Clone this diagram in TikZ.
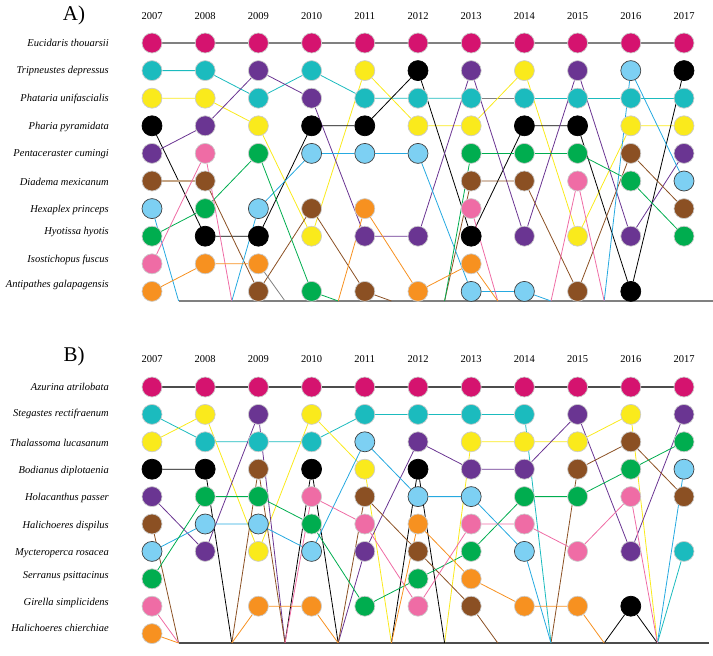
\documentclass[tikz,border=0pt]{standalone}
\usepackage{fontspec}
\setmainfont{Liberation Serif}
\usetikzlibrary{backgrounds}

\definecolor{cmag}{RGB}{213,19,111}
\definecolor{cteal}{RGB}{27,187,190}
\definecolor{cyel}{RGB}{250,234,28}
\definecolor{cpur}{RGB}{106,53,146}
\definecolor{cbrn}{RGB}{139,80,35}
\definecolor{clbl}{RGB}{125,208,243}
\definecolor{clbline}{RGB}{38,169,224}
\definecolor{cgrn}{RGB}{0,173,79}
\definecolor{cpnk}{RGB}{239,108,165}
\definecolor{corg}{RGB}{247,145,32}
\definecolor{ctan}{RGB}{196,164,132}

\tikzset{
	dot/.style={circle,minimum size=20pt,inner sep=0pt,line width=0.7pt},
	spname/.style={anchor=east,inner sep=0pt,font=\fontsize{10.5}{12}\selectfont\itshape},
	yearlab/.style={inner sep=0pt,font=\fontsize{10.5}{12}\selectfont},
	panel/.style={inner sep=0pt,font=\fontsize{21}{24}\selectfont},
	link/.style={line width=0.8pt},
	floor/.style={line width=1.4pt,gray}
}

\begin{document}
\begin{tikzpicture}[x=1pt,y=-1pt]
	\useasboundingbox (0,0) rectangle (713,656);

	% panel A
	\node[panel] (A-title) at (74,15) {A)};
	\foreach \yr [evaluate=\yr as \full using int(2000+\yr)] in {7,...,17}
		\node[yearlab] (A-yr-\yr) at ({152+53.2*(\yr-7)},16) {\full};
	\foreach \sp/\ypos/\txt in {euc/43/Eucidaris thouarsii, tri/71/Tripneustes depressus,
		pha/99/Phataria unifascialis, par/127/Pharia pyramidata, pen/154/Pentaceraster cumingi,
		dia/182/Diadema mexicanum, hex/210/Hexaplex princeps, hyo/232/Hyotissa hyotis,
		iso/260/Isostichopus fuscus, ant/285/Antipathes galapagensis}
		\node[spname] (A-lab-\sp) at (109,\ypos) {\txt};
	\foreach \sp/\col/\ol/\pts in {
		euc/cmag/gray!40/{7/1,8/1,9/1,10/1,11/1,12/1,13/1,14/1,15/1,16/1,17/1},
		tri/cteal/gray!40/{7/2,8/2,9/3,10/2,11/3,12/3,13/3,14/3,15/3,16/3,17/3},
		pha/cyel/gray!40/{7/3,8/3,9/4,10/8,11/2,12/4,13/4,14/2,15/8,16/4,17/4},
		par/black/black/{7/4,8/8,9/8,10/4,11/4,12/2,13/8,14/4,15/4,16/10,17/2},
		pen/cpur/gray!40/{7/5,8/4,9/2,10/3,11/8,12/8,13/2,14/8,15/2,16/8,17/5},
		dia/cbrn/gray!40/{7/6,8/6,9/10,10/7,11/10,13/6,14/6,15/10,16/5,17/7},
		hex/clbl/black!75/{7/7,9/7,10/5,11/5,12/5,13/10,14/10,16/2,17/6},
		hyo/cgrn/gray!40/{7/8,8/7,9/5,10/10,13/5,14/5,15/5,16/6,17/8},
		iso/cpnk/gray!40/{7/9,8/5,13/7,15/6},
		ant/corg/gray!40/{7/10,8/9,9/9,11/7,12/10,13/9}}
		\foreach \yr/\rw in \pts
			\node[dot,fill=\col,draw=\ol] (A-\sp-\yr) at ({152+53.2*(\yr-7)},{43+27.6*(\rw-1)}) {};
	\foreach \yr in {7,...,16}
		\coordinate (A-mid-\yr) at ({178.6+53.2*(\yr-7)},301);
	\coordinate (A-end) at (713,301);

	\begin{pgfonlayer}{background}
		\draw[floor] (A-mid-7) -- (A-end);
		\draw[link,gray,line width=1.4pt] (A-euc-7) -- (A-euc-17);
		\draw[link,cteal] (A-tri-7) -- (A-tri-8) -- (A-tri-9) -- (A-tri-10) -- (A-tri-11) -- (A-tri-12)
			-- (A-tri-13);
		\draw[link,gray] (A-tri-13) -- (A-tri-14);
		\draw[link,cteal] (A-tri-14) -- (A-tri-15) -- (A-tri-16) -- (A-tri-17);
		\draw[link,cyel] (A-pha-7) -- (A-pha-8) -- (A-pha-9) -- (A-pha-10) -- (A-pha-11) -- (A-pha-12)
			-- (A-pha-13) -- (A-pha-14) -- (A-pha-15) -- (A-pha-16) -- (A-pha-17);
		\draw[link,black] (A-par-7) -- (A-par-8) -- (A-par-9) -- (A-par-10) -- (A-par-11) -- (A-par-12)
			-- (A-par-13) -- (A-par-14) -- (A-par-15) -- (A-par-16) -- (A-par-17);
		\draw[link,cpur] (A-pen-7) -- (A-pen-8) -- (A-pen-9) -- (A-pen-10) -- (A-pen-11) -- (A-pen-12)
			-- (A-pen-13) -- (A-pen-14) -- (A-pen-15) -- (A-pen-16) -- (A-pen-17);
		\draw[link,ctan,line width=1.6pt] (A-dia-7) -- (A-dia-8);
		\draw[link,cbrn] (A-dia-8) -- (A-dia-9) -- (A-dia-10) -- (A-dia-11) -- (A-mid-11)
			(A-mid-12) -- (A-dia-13) -- (A-dia-14) -- (A-dia-15) -- (A-dia-16) -- (A-dia-17);
		\draw[link,clbline] (A-hex-7) -- (A-mid-7) (A-mid-8) -- (A-hex-9) -- (A-hex-10) -- (A-hex-11)
			-- (A-hex-12) -- (A-hex-13) -- (A-hex-14) -- (A-mid-14) (A-mid-15) -- (A-hex-16) -- (A-hex-17);
		\draw[link,cgrn] (A-hyo-7) -- (A-hyo-8) -- (A-hyo-9) -- (A-hyo-10) -- (A-mid-10)
			(A-mid-12) -- (A-hyo-13) -- (A-hyo-14) -- (A-hyo-15) -- (A-hyo-16) -- (A-hyo-17);
		\draw[link,cpnk] (A-iso-7) -- (A-iso-8) -- (A-mid-8) (A-iso-13) -- (A-mid-13)
			(A-mid-14) -- (A-iso-15) -- (A-mid-15);
		\draw[link,corg] (A-ant-7) -- (A-ant-8) -- (A-ant-9);
		\draw[link,gray] (A-ant-9) -- (A-mid-9);
		\draw[link,corg] (A-mid-10) -- (A-ant-11) -- (A-ant-12) -- (A-ant-13) -- (A-mid-13);
	\end{pgfonlayer}

	% panel B
	\node[panel] (B-title) at (74,356) {B)};
	\foreach \yr [evaluate=\yr as \full using int(2000+\yr)] in {7,...,17}
		\node[yearlab] (B-yr-\yr) at ({152+53.2*(\yr-7)},359) {\full};
	\foreach \sp/\ypos/\txt in {azu/387/Azurina atrilobata, ste/414/Stegastes rectifraenum,
		tha/443/Thalassoma lucasanum, bod/471/Bodianus diplotaenia, hol/498/Holacanthus passer,
		hdi/526/Halichoeres dispilus, myc/553/Mycteroperca rosacea, ser/576/Serranus psittacinus,
		gir/603/Girella simplicidens, hch/628/Halichoeres chierchiae}
		\node[spname] (B-lab-\sp) at (109,\ypos) {\txt};
	\foreach \sp/\col/\ol/\pts in {
		azu/cmag/gray!40/{7/1,8/1,9/1,10/1,11/1,12/1,13/1,14/1,15/1,16/1,17/1},
		ste/cteal/gray!40/{7/2,8/3,9/3,10/3,11/2,12/2,13/2,14/2,17/7},
		tha/cyel/gray!40/{7/3,8/2,9/7,10/2,11/4,13/3,14/3,15/3,16/2},
		bod/black/black/{7/4,8/4,10/4,12/4,16/9},
		hol/cpur/gray!40/{7/5,8/7,9/2,11/7,12/3,13/4,14/4,15/2,16/7,17/2},
		hdi/cbrn/gray!40/{7/6,9/4,11/5,12/7,13/9,15/4,16/3,17/5},
		myc/clbl/black!75/{7/7,8/6,9/6,10/7,11/3,12/5,13/5,14/7,17/4},
		ser/cgrn/gray!40/{7/8,8/5,9/5,10/6,11/9,12/8,13/7,14/5,15/5,16/4,17/3},
		gir/cpnk/gray!40/{7/9,10/5,11/6,12/9,13/6,14/6,15/7,16/5},
		hch/corg/gray!40/{7/10,9/9,10/9,12/6,13/8,14/9,15/9}}
		\foreach \yr/\rw in \pts
			\node[dot,fill=\col,draw=\ol] (B-\sp-\yr) at ({152+53.2*(\yr-7)},{387+27.4*(\rw-1)}) {};
	\foreach \yr in {7,...,16}
		\coordinate (B-mid-\yr) at ({178.6+53.2*(\yr-7)},643);
	\coordinate (B-end) at (709,643);

	\begin{pgfonlayer}{background}
		\draw[floor,black!70] (B-mid-7) -- (B-end);
		\draw[link,black!70,line width=1.4pt] (B-azu-7) -- (B-azu-17);
		\draw[link,cteal] (B-ste-7) -- (B-ste-8) -- (B-ste-9) -- (B-ste-10) -- (B-ste-11) -- (B-ste-12)
			-- (B-ste-13) -- (B-ste-14) -- (B-mid-14) (B-mid-16) -- (B-ste-17);
		\draw[link,cyel] (B-tha-7) -- (B-tha-8) -- (B-tha-9) -- (B-tha-10) -- (B-tha-11) -- (B-mid-11)
			(B-mid-12) -- (B-tha-13) -- (B-tha-14) -- (B-tha-15) -- (B-tha-16) -- (B-mid-16);
		\draw[link,black] (B-bod-7) -- (B-bod-8) -- (B-mid-8) (B-mid-9) -- (B-bod-10) -- (B-mid-10)
			(B-mid-11) -- (B-bod-12) -- (B-mid-12) (B-mid-15) -- (B-bod-16) -- (B-mid-16);
		\draw[link,cpur] (B-hol-7) -- (B-hol-8) -- (B-hol-9) -- (B-mid-9)
			(B-mid-10) -- (B-hol-11) -- (B-hol-12) -- (B-hol-13) -- (B-hol-14) -- (B-hol-15)
			-- (B-hol-16) -- (B-hol-17);
		\draw[link,cbrn] (B-hdi-7) -- (B-mid-7) (B-mid-8) -- (B-hdi-9) -- (B-mid-9)
			(B-mid-10) -- (B-hdi-11) -- (B-hdi-12) -- (B-hdi-13) -- (B-mid-13)
			(B-mid-14) -- (B-hdi-15) -- (B-hdi-16) -- (B-hdi-17);
		\draw[link,clbline] (B-myc-7) -- (B-myc-8) -- (B-myc-9) -- (B-myc-10) -- (B-myc-11) -- (B-myc-12)
			-- (B-myc-13) -- (B-myc-14) -- (B-mid-14) (B-mid-16) -- (B-myc-17);
		\draw[link,cgrn] (B-ser-7) -- (B-ser-8) -- (B-ser-9) -- (B-ser-10) -- (B-ser-11) -- (B-ser-12)
			-- (B-ser-13) -- (B-ser-14) -- (B-ser-15) -- (B-ser-16) -- (B-ser-17);
		\draw[link,cpnk] (B-gir-7) -- (B-mid-7) (B-mid-9) -- (B-gir-10) -- (B-gir-11) -- (B-gir-12)
			-- (B-gir-13) -- (B-gir-14) -- (B-gir-15) -- (B-gir-16) -- (B-mid-16);
		\draw[link,corg] (B-hch-7) -- (B-mid-7) (B-mid-8) -- (B-hch-9) -- (B-hch-10) -- (B-mid-10)
			(B-mid-11) -- (B-hch-12) -- (B-hch-13) -- (B-hch-14) -- (B-hch-15) -- (B-mid-15);
	\end{pgfonlayer}
\end{tikzpicture}
\end{document}
